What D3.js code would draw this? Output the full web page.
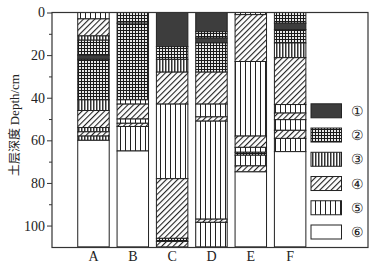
<!DOCTYPE html>
<html><head><meta charset="utf-8">
<script src="https://cdn.jsdelivr.net/npm/d3@7/dist/d3.min.js"></script>
<style>body{margin:0;background:#fff}svg{display:block}</style>
</head><body>
<script>
// ---- data ----
const categories = ["A","B","C","D","E","F"];
const soilLabels = ["①","②","③","④","⑤","⑥"];
const yTicks = [0,20,40,60,80,100];
const yMinorTicks = [10,30,50,70,90];
// layer boundaries (cm) and soil type (1..6) for each profile
const depthsA = [0,3,11,13,20,22,41,46,54,56,58,60,110];
const typesA  = [5,4,3,2,1,2,3,4,3,4,3,6];
const depthsB = [0,5,41,43,50,52,53.5,65,110];
const typesB  = [2,2,5,4,5,4,5,6];
const depthsC = [0,16,22,28,43,78,106,107.5,110];
const typesC  = [1,2,3,4,5,4,2,4];
const depthsD = [0,9,12,14.3,28,43,49,51,97,98.5,110];
const typesD  = [1,2,1,2,4,5,4,5,4,5];
const depthsE = [0,1,23,58,63.3,65.6,67,72,74.8,110];
const typesE  = [5,4,5,4,5,2,5,4,6];
const depthsF = [0,5,8,14.3,21.2,43.2,47.2,50.3,55.3,59.1,65.3,110];
const typesF  = [2,1,2,3,4,5,4,5,4,5,6];

const profiles = [
  {cat:"A", d:depthsA, t:typesA},{cat:"B", d:depthsB, t:typesB},
  {cat:"C", d:depthsC, t:typesC},{cat:"D", d:depthsD, t:typesD},
  {cat:"E", d:depthsE, t:typesE},{cat:"F", d:depthsF, t:typesF}
];

const W=377,H=270;
const svg=d3.select("body").append("svg").attr("width",W).attr("height",H);
const defs=svg.append("defs");
// patterns
defs.append("pattern").attr("id","p2").attr("patternUnits","userSpaceOnUse").attr("width",3).attr("height",3)
  .call(p=>{p.append("rect").attr("width",3).attr("height",3).attr("fill","#e8e8e8");
    p.append("rect").attr("width",3).attr("height",1).attr("fill","#1a1a1a");
    p.append("rect").attr("width",1).attr("height",3).attr("fill","#1a1a1a");});
defs.append("pattern").attr("id","p3").attr("patternUnits","userSpaceOnUse").attr("width",3).attr("height",3)
  .call(p=>{p.append("rect").attr("width",3).attr("height",3).attr("fill","#fff");
    p.append("rect").attr("width",1).attr("height",3).attr("fill","#333");
    p.append("rect").attr("x",1).attr("width",1).attr("height",3).attr("fill","#999");});
defs.append("pattern").attr("id","p4").attr("patternUnits","userSpaceOnUse").attr("width",4).attr("height",4)
  .attr("patternTransform","rotate(45)")
  .call(p=>{p.append("rect").attr("width",4).attr("height",4).attr("fill","#fff");
    p.append("rect").attr("width",1.1).attr("height",4).attr("fill","#222");});
defs.append("pattern").attr("id","p5").attr("patternUnits","userSpaceOnUse").attr("width",5).attr("height",5)
  .call(p=>{p.append("rect").attr("width",5).attr("height",5).attr("fill","#fff");
    p.append("rect").attr("width",1).attr("height",5).attr("fill","#222");});
const fills={1:"#3d3d3d",2:"url(#p2)",3:"url(#p3)",4:"url(#p4)",5:"url(#p5)",6:"#fff"};

const x0=52,x1=368,y0=12.5,y1=247.5;
const x=d3.scaleBand().domain(categories).range([73.8,309.8]).paddingInner(0.2).paddingOuter(0.1);
const y=d3.scaleLinear().domain([0,110.3]).range([y0,y1]);

// bars
const g=svg.append("g");
profiles.forEach(pr=>{
  const segs=pr.t.map((t,i)=>({t, top:pr.d[i], bot:pr.d[i+1]}));
  g.selectAll(null).data(segs).enter().append("rect")
    .attr("x",x(pr.cat)).attr("width",x.bandwidth())
    .attr("y",d=>y(d.top)).attr("height",d=>y(d.bot)-y(d.top))
    .attr("fill",d=>fills[d.t]).attr("stroke","#222").attr("stroke-width",1);
});

// frame
svg.append("rect").attr("x",x0).attr("y",y0).attr("width",x1-x0).attr("height",y1-y0)
  .attr("fill","none").attr("stroke","#333").attr("stroke-width",1.2);

// y axis
const serif="'Liberation Serif','Times New Roman',serif";
const ax=svg.append("g").attr("transform",`translate(${x0},0)`)
  .call(d3.axisLeft(y).tickValues(yTicks).tickSize(5).tickPadding(2));
ax.select(".domain").remove();
ax.selectAll("text").attr("font-family",serif).attr("font-size",14).attr("fill","#222");
ax.selectAll("line").attr("stroke","#333");
svg.append("g").attr("transform",`translate(${x0},0)`)
  .call(d3.axisLeft(y).tickValues(yMinorTicks).tickSize(3).tickFormat(""))
  .call(s=>{s.select(".domain").remove(); s.selectAll("line").attr("stroke","#333");});

// x labels
svg.append("g").selectAll("text").data(categories).enter().append("text")
  .attr("x",d=>x(d)+x.bandwidth()/2).attr("y",261).attr("text-anchor","middle")
  .attr("font-family",serif).attr("font-size",14).attr("fill","#222").text(d=>d);

// y title
svg.append("text").attr("transform","translate(19,125) rotate(-90)").attr("text-anchor","middle")
  .attr("font-size",12).attr("fill","#222")
  .call(t=>{t.append("tspan").attr("font-family","'Noto Sans CJK SC',sans-serif").text("土层深度 ");
           t.append("tspan").attr("font-family",serif).attr("font-size",13).text("Depth/cm");});

// legend
const ly=d3.scalePoint().domain(soilLabels).range([110.8,232]);
const lg=svg.append("g").selectAll("g").data(soilLabels).enter().append("g");
lg.append("rect").attr("x",311).attr("width",30.5).attr("y",d=>ly(d)-7).attr("height",14)
  .attr("fill",(d,i)=>fills[i+1]).attr("stroke","#222").attr("stroke-width",1);
lg.append("text").attr("x",357).attr("y",d=>ly(d)+5).attr("text-anchor","middle")
  .attr("font-family",serif).attr("font-size",14).attr("fill","#222").text(d=>d);
</script>
</body></html>
